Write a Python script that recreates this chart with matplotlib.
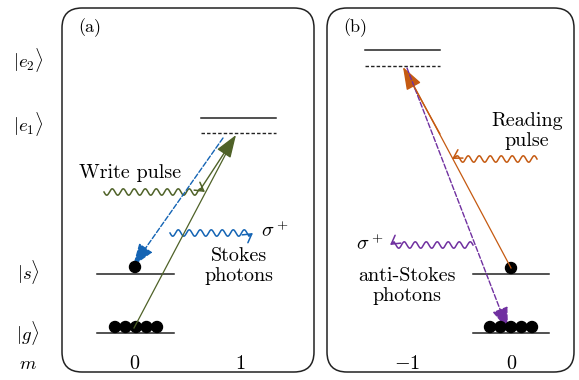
import numpy as np
import matplotlib.pyplot as plt
from matplotlib.patches import FancyBboxPatch, Circle

plt.rcParams['font.family'] = 'serif'
plt.rcParams['font.serif'] = ['cmr10']
plt.rcParams['mathtext.fontset'] = 'cm'
plt.rcParams['axes.unicode_minus'] = False

# level labels (left side) and their heights in pixels
state_labels = [r'$|e_2\rangle$', r'$|e_1\rangle$', r'$|s\rangle$', r'$|g\rangle$']
state_y = [60, 124, 272, 333]
m_labels_a = ['0', '1']
m_labels_b = [r'$-1$', '0']
n_ground_atoms = 5

GREEN = '#4f6228'
BLUE = '#1464b4'
ORANGE = '#c55a11'
PURPLE = '#7030a0'
FS = 14.5

fig = plt.figure(figsize=(5.79, 3.80), dpi=100)
ax = fig.add_axes([0, 0, 1, 1])
ax.set_xlim(0, 579)
ax.set_ylim(380, 0)
ax.axis('off')

# panels
for x0, x1, tag in [(62, 314, '(a)'), (327, 574, '(b)')]:
    ax.add_patch(FancyBboxPatch((x0 + 20, 8 + 20), x1 - x0 - 40, 364 - 40,
                                boxstyle='round,pad=20', fc='none', ec='#222222', lw=1.1))
    ax.text(x0 + 16, 28, tag, fontsize=13, ha='left', va='center')

for lab, y in zip(state_labels, state_y):
    ax.text(28, y, lab, fontsize=13.5, ha='center', va='center')
ax.text(28, 364, r'$m$', fontsize=13.5, ha='center', va='center')


def level(x0, x1, y, dashed=False):
    ax.plot([x0, x1], [y, y], color='#222222', lw=1.1 if not dashed else 1.0,
            ls=(0, (2.5, 1.5)) if dashed else '-')


def atoms(xc, y, n):
    r = 5.5
    xs = xc + (np.arange(n) - (n - 1) / 2) * 10.5
    for x in xs:
        ax.add_patch(Circle((x, y), r, color='black', zorder=5))


def arrow(p0, p1, color, dashed=False, lw=1.0):
    ax.annotate('', xy=p1, xytext=p0,
                arrowprops=dict(arrowstyle='-|>,head_length=1.4,head_width=0.5',
                                color=color, lw=lw, ls='--' if dashed else '-',
                                shrinkA=0, shrinkB=0))


def wavy(x0, x1, y, color, amp=3.2, wl=11):
    direction = np.sign(x1 - x0)
    end = x1 - direction * 4
    xs = np.linspace(x0, end, 300)
    ys = y + amp * np.sin(2 * np.pi * (xs - x0) / wl)
    ax.plot(xs, ys, color=color, lw=1.1)
    ax.annotate('', xy=(x1, y), xytext=(end, ys[-1]),
                arrowprops=dict(arrowstyle='->,head_length=0.6,head_width=0.35',
                                color=color, lw=1.1, shrinkA=0, shrinkB=0))


# panel (a)
level(97, 174, state_y[3])
level(97, 174, 274)
level(201, 276, 118)
level(201, 276, 133, dashed=True)
atoms(136, 327, n_ground_atoms)
atoms(135, 267, 1)
ax.plot([134, 230], [328, 146], color=GREEN, lw=0.9, zorder=6)
arrow((200, 190), (236, 135), GREEN)
arrow((223, 138), (133, 266), BLUE, dashed=True)
wavy(104, 205, 192, GREEN)
ax.text(130, 173, 'Write pulse', fontsize=FS, ha='center', va='center')
wavy(170, 253, 233, BLUE)
ax.text(275, 231, r'$\sigma^+$', fontsize=FS, ha='center', va='center')
ax.text(239, 266, 'Stokes\nphotons', fontsize=FS, ha='center', va='center',
        linespacing=1.2)
ax.text(134, 364, m_labels_a[0], fontsize=FS, ha='center', va='center')
ax.text(240, 364, m_labels_a[1], fontsize=FS, ha='center', va='center')

# panel (b)
level(365, 440, 50)
level(365, 440, 66, dashed=True)
level(473, 549, 274)
level(473, 549, state_y[3])
atoms(511, 327, n_ground_atoms)
atoms(511, 268, 1)
ax.plot([511, 414], [268, 86], color=ORANGE, lw=0.9, zorder=6)
arrow((440, 134), (403, 67), ORANGE)
arrow((407, 68), (508, 330), PURPLE, dashed=True)
wavy(537, 452, 159, ORANGE)
ax.text(527, 131, 'Reading\npulse', fontsize=FS, ha='center', va='center',
        linespacing=1.2)
wavy(473, 390, 245, PURPLE)
ax.text(370, 244, r'$\sigma^+$', fontsize=FS, ha='center', va='center')
ax.text(407, 286, 'anti-Stokes\nphotons', fontsize=FS, ha='center', va='center',
        linespacing=1.2)
ax.text(407, 364, m_labels_b[0], fontsize=FS, ha='center', va='center')
ax.text(511, 364, m_labels_b[1], fontsize=FS, ha='center', va='center')

fig.savefig('out.png', dpi=100)
